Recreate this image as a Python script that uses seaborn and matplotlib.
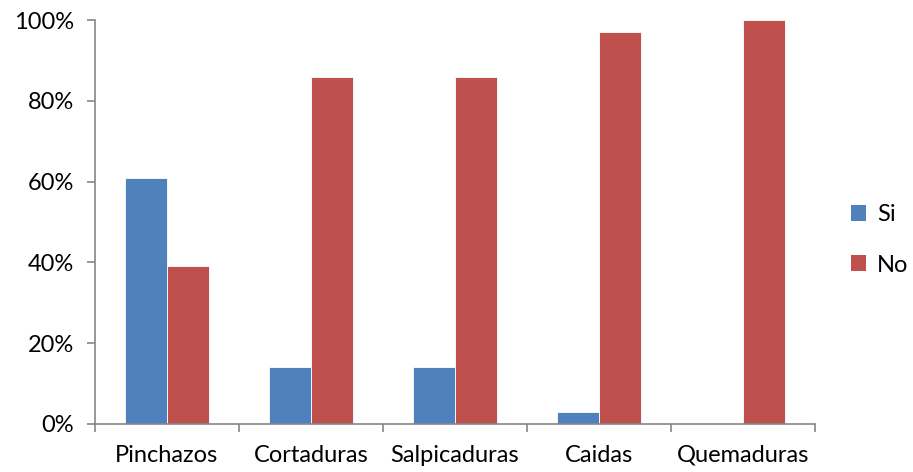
import matplotlib
matplotlib.use("Agg")
import matplotlib.pyplot as plt
from matplotlib.ticker import FixedLocator, FuncFormatter
from matplotlib.patches import Patch
import seaborn as sns
import pandas as pd

categorias = ["Pinchazos", "Cortaduras", "Salpicaduras", "Caidas", "Quemaduras"]
si = [61, 14, 14, 3, 0]
no = [39, 86, 86, 97, 100]
series = ["Si", "No"]
colores = ["#4F81BD", "#C0504D"]

df = pd.DataFrame({
    "categoria": categorias * 2,
    "serie": ["Si"] * len(categorias) + ["No"] * len(categorias),
    "valor": si + no,
})

sns.set_theme(style="white")
plt.rcParams["font.family"] = ["Lato", "DejaVu Sans"]
plt.rcParams["text.color"] = "black"

fig = plt.figure(figsize=(9.13, 4.72), dpi=100)
ax = fig.add_axes([0.104, 0.1017, 0.7887, 0.8559])

sns.barplot(data=df, x="categoria", y="valor", hue="serie", order=categorias,
            hue_order=series, palette=colores, width=0.58, gap=0,
            saturation=1, ax=ax, legend=False, linewidth=0.6, edgecolor="white")

ax.set_xlim(-0.5, len(categorias) - 0.5)
ax.set_ylim(0, 100)
ax.set_xlabel("")
ax.set_ylabel("")

axis_color = "#868686"
for side in ["top", "right"]:
    ax.spines[side].set_visible(False)
for side in ["left", "bottom"]:
    ax.spines[side].set_color(axis_color)
    ax.spines[side].set_linewidth(1.2)

# y axis: percentages every 20
ax.yaxis.set_major_locator(FixedLocator([0, 20, 40, 60, 80, 100]))
ax.yaxis.set_major_formatter(FuncFormatter(lambda v, _: f"{int(v)}%"))
ax.tick_params(axis="y", which="major", direction="out", length=6, width=1.2,
               color=axis_color, labelsize=17, pad=9, left=True,
               labelcolor="black")

# x axis: tick marks between categories, labels centred on the groups
bounds = [i - 0.5 for i in range(len(categorias) + 1)]
ax.xaxis.set_major_locator(FixedLocator(bounds))
ax.xaxis.set_major_formatter(FuncFormatter(lambda v, _: ""))
ax.xaxis.set_minor_locator(FixedLocator(list(range(len(categorias)))))
ax.set_xticklabels(categorias, minor=True)
ax.tick_params(axis="x", which="major", direction="out", length=6, width=1.2,
               color=axis_color, bottom=True)
ax.tick_params(axis="x", which="minor", length=0, labelsize=17, pad=15,
               labelcolor="black")

handles = [Patch(facecolor=c, edgecolor="none", label=s) for s, c in zip(series, colores)]
fig.legend(handles=handles, loc="center left", bbox_to_anchor=(0.914, 0.492),
           frameon=False, fontsize=17, handlelength=0.65, handleheight=0.65,
           handletextpad=0.45, labelspacing=1.25, borderpad=0.2)

fig.savefig("out.png", dpi=100, facecolor="white")
